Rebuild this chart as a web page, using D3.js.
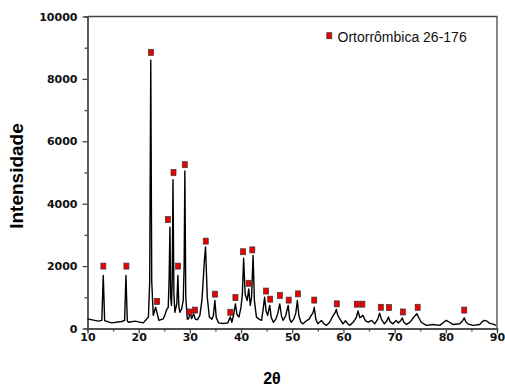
<!DOCTYPE html>
<html>
<head>
<meta charset="utf-8">
<script src="https://cdn.jsdelivr.net/npm/d3@7"></script>
<style>
  body { margin: 0; background: #fff; }
  svg { display: block; }
  .axis path, .axis line { stroke: #444; stroke-width: 1.3; }
  .axis text { font-family: "DejaVu Sans", sans-serif; font-weight: bold; font-size: 11px; fill: #111; }
</style>
</head>
<body>
<script>
// diffraction pattern: 2theta (deg) and intensity
var twoTheta = [10, 12.1, 12.8, 13.08, 13.35, 14.7, 16.7, 17.25, 17.51, 17.78, 18, 19.3, 20.9, 21.9, 22.15, 22.36, 22.55, 22.85,
  23.3, 23.95, 24.8, 25.1, 25.45, 25.77, 25.95, 26.1, 26.25, 26.4, 26.55, 26.7, 26.88, 27.07, 27.45, 27.66, 27.85, 28.05, 28.4, 28.7, 28.88, 29.02, 29.2, 29.5,
  29.75, 30.05, 30.35, 30.75, 31.05, 31.5, 31.95, 32.35, 32.6, 32.8, 33.06, 33.4, 33.8, 34.3, 34.6, 34.88, 35.15, 35.6, 36.5, 37.4, 37.9, 38.2,
  38.5, 38.9, 39.2, 39.6, 40.0, 40.25, 40.5, 40.8, 41.2, 41.5, 41.8, 42.05, 42.35, 42.6, 43.0, 43.5, 44.0, 44.3, 44.6, 44.9, 45.2, 45.6,
  45.9, 46.3, 46.8, 47.2, 47.56, 47.9, 48.2, 48.7, 49.2, 49.5, 49.8, 50.3, 50.7, 51.0, 51.3, 51.7, 52.1, 52.8, 53.3, 53.7, 54.05,
  54.3, 54.6, 55.0, 55.7, 56.2, 56.7, 57.3, 58.0, 58.35, 58.6, 58.9, 59.3, 59.9, 60.4, 60.6, 61.2, 61.9, 62.5, 62.85, 63.2, 63.5,
  63.8, 64.3, 64.8, 65.5, 66.1, 66.7, 67.07, 67.4, 68.0, 68.5, 68.8, 69.1, 69.7, 70.3, 70.7, 71.2, 71.5, 71.8, 72.3, 72.8, 73.3,
  73.8, 74.35, 74.8, 75.2, 76.2, 77.5, 78.8, 79.6, 80.1, 80.7, 81.4, 82.7, 83.3, 83.6, 83.9, 84.3, 85.3, 86.6, 87.2, 87.6, 88.1,
  88.5, 89.2, 89.8];
var intensity = [310, 235, 260, 1700, 250, 180, 225, 260, 1700, 240, 200, 235, 180, 370, 1500, 8600, 1500, 420,
  680, 260, 310, 420, 600, 680, 1600, 3250, 1000, 740, 1500, 4770, 1100, 520, 800, 1700, 700, 520, 630, 900, 2000, 5050, 1000, 300,
  310, 500, 320, 470, 300, 280, 420, 900, 1540, 2100, 2610, 1000, 370, 300, 420, 900, 350, 180, 160, 180, 370, 200,
  400, 790, 450, 370, 700, 1100, 2250, 1100, 900, 1270, 740, 1000, 2340, 900, 370, 300, 260, 600, 1000, 550, 420, 740,
  350, 200, 300, 500, 790, 400, 260, 400, 740, 300, 200, 300, 500, 900, 400, 200, 150, 250, 300, 420, 500,
  680, 300, 150, 260, 150, 100, 200, 420, 500, 610, 420, 310, 150, 250, 200, 100, 200, 350, 560, 350, 380,
  420, 250, 200, 260, 150, 300, 490, 300, 150, 250, 370, 220, 150, 260, 180, 250, 340, 200, 130, 180, 260,
  380, 470, 320, 200, 100, 130, 100, 200, 260, 200, 130, 150, 250, 340, 220, 150, 100, 130, 230, 260, 230,
  170, 140, 100];

// reference peaks (Ortorrômbica 26-176)
var peakTheta = [13.1, 17.6, 22.4, 23.6, 25.7, 26.8, 27.7, 29.0, 29.9, 31.0, 33.1, 34.9, 37.9, 38.9, 40.4, 41.5, 42.2,
  44.9, 45.7, 47.6, 49.3, 51.1, 54.3, 58.7, 62.6, 63.7, 67.3, 68.9, 71.6, 74.5, 83.6];
var peakY = [2000, 2000, 8850, 870, 3490, 5000, 2000, 5250, 530, 590, 2800, 1100, 520, 990, 2460, 1450, 2520,
  1200, 940, 1060, 910, 1110, 910, 790, 780, 780, 680, 670, 530, 680, 590];

var xMajor = [10, 20, 30, 40, 50, 60, 70, 80, 90];
var xMinor = [15, 25, 35, 45, 55, 65, 75, 85];
var yMajor = [0, 2000, 4000, 6000, 8000, 10000];
var yMinor = [1000, 3000, 5000, 7000, 9000];
var legendLabel = "Ortorrômbica 26-176";

var W = 505, H = 389;
var pLeft = 87.5, pRight = 497, pTop = 16.5, pBottom = 328.5;

var svg = d3.select("body").append("svg")
    .attr("width", W)
    .attr("height", H);

var x = d3.scaleLinear().domain([10, 90]).range([pLeft, pRight]);
var y = d3.scaleLinear().domain([0, 10000]).range([pBottom, pTop]);

// frame top and right
svg.append("path")
    .attr("d", "M" + pLeft + "," + pTop + "H" + pRight + "V" + pBottom)
    .attr("fill", "none")
    .attr("stroke", "#444")
    .attr("stroke-width", 1.3);

// minor ticks
svg.append("g")
    .attr("class", "axis")
    .attr("transform", "translate(0," + pBottom + ")")
    .call(d3.axisBottom(x).tickValues(xMinor).tickSize(3).tickFormat(""));
svg.append("g")
    .attr("class", "axis")
    .attr("transform", "translate(" + pLeft + ",0)")
    .call(d3.axisLeft(y).tickValues(yMinor).tickSize(3).tickFormat(""));

// major ticks + labels
svg.append("g")
    .attr("class", "axis")
    .attr("transform", "translate(0," + pBottom + ")")
    .call(d3.axisBottom(x).tickValues(xMajor).tickSize(5).tickSizeOuter(0).tickPadding(0).tickFormat(d3.format("d")));
svg.append("g")
    .attr("class", "axis")
    .attr("transform", "translate(" + pLeft + ",0)")
    .call(d3.axisLeft(y).tickValues(yMajor).tickSize(5).tickSizeOuter(0).tickPadding(5).tickFormat(d3.format("d")));

// the pattern
var line = d3.line()
    .x(function(d) { return x(d[0]); })
    .y(function(d) { return y(d[1]); });

svg.append("path")
    .datum(twoTheta.map(function(t, i) { return [t, intensity[i]]; }))
    .attr("fill", "none")
    .attr("stroke", "#000")
    .attr("stroke-width", 1.4)
    .attr("stroke-linejoin", "round")
    .attr("d", line);

// peak markers
var mw = 5, mh = 6;
svg.append("g").selectAll("rect")
    .data(peakTheta.map(function(t, i) { return [t, peakY[i]]; }))
    .enter().append("rect")
    .attr("x", function(d) { return x(d[0]) - mw / 2; })
    .attr("y", function(d) { return y(d[1]) - mh / 2; })
    .attr("width", mw)
    .attr("height", mh)
    .attr("fill", "#ee0000")
    .attr("stroke", "#333")
    .attr("stroke-width", 0.7);

// legend
svg.append("rect")
    .attr("x", 329.3 - mw / 2).attr("y", 35.7 - mh / 2)
    .attr("width", mw).attr("height", mh)
    .attr("fill", "#ee0000").attr("stroke", "#333").attr("stroke-width", 0.7);
svg.append("text")
    .attr("x", 337.5).attr("y", 41.5)
    .style("font-family", "'Liberation Sans', Arial, sans-serif")
    .style("font-size", "14px")
    .style("fill", "#111")
    .text(legendLabel);

// axis titles
svg.append("text")
    .attr("x", 272).attr("y", 384)
    .attr("text-anchor", "middle")
    .style("font-family", "'Liberation Sans', Arial, sans-serif")
    .style("font-weight", "bold")
    .style("font-size", "16px")
    .text("2θ");

svg.append("text")
    .attr("transform", "translate(23,176) rotate(-90)")
    .attr("text-anchor", "middle")
    .style("font-family", "'Liberation Sans', Arial, sans-serif")
    .style("font-weight", "bold")
    .style("font-size", "19px")
    .text("Intensidade");
</script>
</body>
</html>
